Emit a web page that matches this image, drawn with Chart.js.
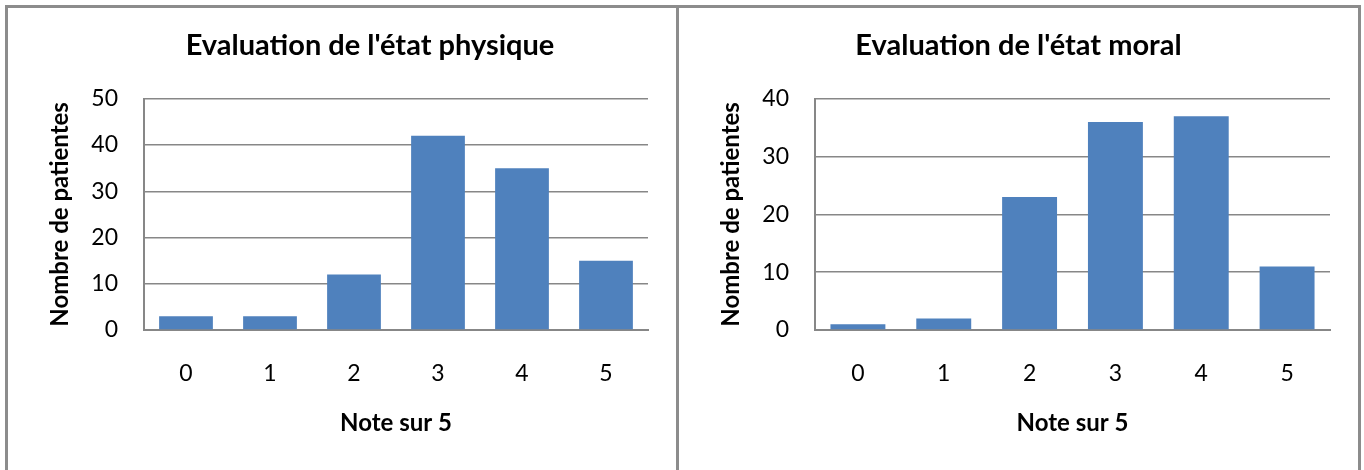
<!DOCTYPE html>
<html>
<head>
<meta charset="utf-8">
<script src="https://cdn.jsdelivr.net/npm/chart.js@4/dist/chart.umd.min.js"></script>
<style>
  body { margin: 0; background: #fff; overflow: hidden; width: 1364px; height: 470px; }
  .panel { position: absolute; top: 5px; height: 470px; border: 3px solid #8c8c8c; border-bottom: none; box-sizing: border-box; background: #fff; }
  .box { position: relative; height: 462px; }
</style>
</head>
<body>
<div class="panel" style="left:5px; width:674px;"><div class="box"><canvas id="chart-physique"></canvas></div></div>
<div class="panel" style="left:676px; width:685px;"><div class="box"><canvas id="chart-moral"></canvas></div></div>
<script>
const notes = ['0', '1', '2', '3', '4', '5'];
const physique = [3, 3, 12, 42, 35, 15];
const moral = [1, 2, 23, 36, 37, 11];
const physiqueMax = 50;
const moralMax = 40;
const yStep = 10;

Chart.defaults.font.family = 'Lato';
Chart.defaults.color = '#000';

// chart.js centers the title on the canvas, the left one sits a bit to the right
const titleShift = {
  id: 'titleShift',
  afterLayout(chart, args, opts) {
    const t = chart.titleBlock;
    if (t && opts.dx) {
      t.left += opts.dx;
      t.right += opts.dx;
    }
  }
};

function makeChart(id, titre, values, max, dx) {
  return new Chart(document.getElementById(id), {
    type: 'bar',
    data: {
      labels: notes,
      datasets: [{
        data: values,
        backgroundColor: '#4F81BD',
        barPercentage: 0.64,
        categoryPercentage: 1
      }]
    },
    options: {
      responsive: true,
      maintainAspectRatio: false,
      animation: false,
      layout: { padding: { left: 0, right: 28, top: 0, bottom: 0 } },
      plugins: {
        legend: { display: false },
        tooltip: { enabled: false },
        title: {
          display: true,
          text: titre,
          font: { size: 29, weight: 'bold' },
          padding: { top: 20, bottom: 36 }
        },
        titleShift: { dx: dx }
      },
      scales: {
        x: {
          grid: { display: false, drawTicks: false },
          border: { display: true, color: '#878787', width: 2 },
          ticks: { font: { size: 23 }, padding: 30 },
          title: { display: true, text: 'Note sur 5', font: { size: 24, weight: 'bold' }, padding: { top: 0, bottom: 32 } },
          afterFit(scale) { scale.height = 140; }
        },
        y: {
          min: 0,
          max: max,
          ticks: { stepSize: yStep, font: { size: 23 }, padding: 26 },
          grid: { color: '#878787', lineWidth: 1.5, drawTicks: false },
          border: { display: true, color: '#878787', width: 2 },
          title: { display: true, text: 'Nombre de patientes', font: { size: 24, weight: 'bold' }, padding: { top: 38, bottom: 0 } },
          afterFit(scale) { scale.width = 136; }
        }
      }
    },
    plugins: [titleShift]
  });
}

makeChart('chart-physique', "Evaluation de l'état physique", physique, physiqueMax, 42);
makeChart('chart-moral', "Evaluation de l'état moral", moral, moralMax, 14);
</script>
</body>
</html>
